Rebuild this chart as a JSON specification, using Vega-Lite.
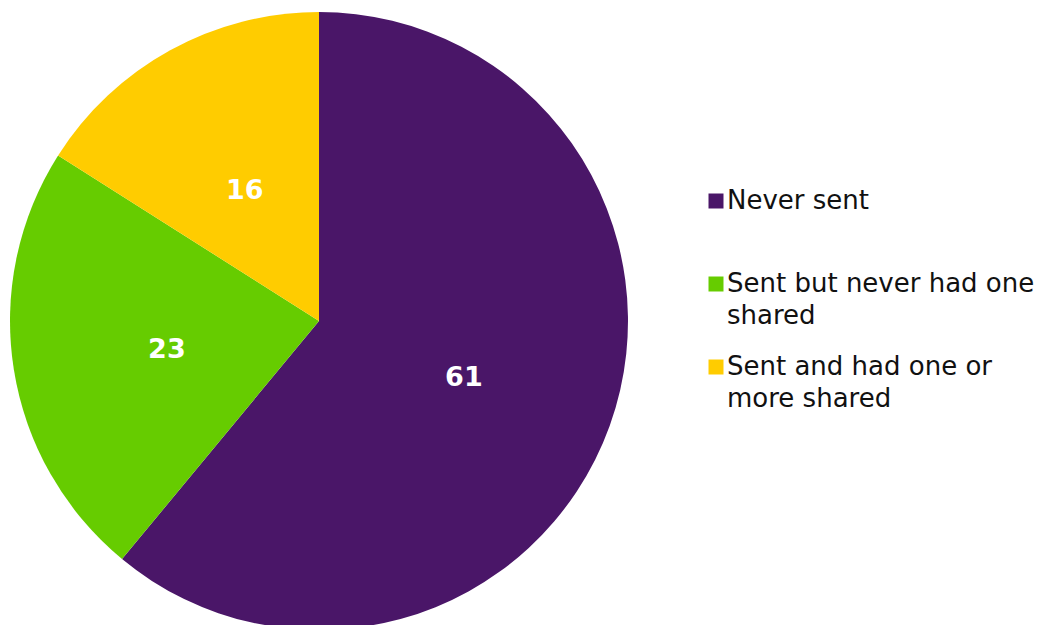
{
  "$schema": "https://vega.github.io/schema/vega-lite/v6.json",
  "width": 638,
  "height": 642,
  "padding": 0,
  "background": "white",
  "config": {"view": {"stroke": null}, "font": "DejaVu Sans", "style": {"guide-label": {"lineHeight": 32}}},
  "data": {"values": [
    {"category": "Never sent", "value": 61, "order": 1},
    {"category": "Sent but never had one shared", "value": 23, "order": 2},
    {"category": "Sent and had one or more shared", "value": 16, "order": 3}
  ]},
  "encoding": {
    "theta": {"field": "value", "type": "quantitative", "stack": true},
    "order": {"field": "order", "type": "quantitative"},
    "color": {
      "field": "category", "type": "nominal",
      "scale": {"domain": ["Never sent", "Sent but never had one shared", "Sent and had one or more shared"], "range": ["#4A1668", "#66CC00", "#FFCC00"]},
      "legend": {
        "title": null,
        "orient": "none",
        "legendX": 703,
        "legendY": 188,
        "padding": 0,
        "symbolType": "square",
        "symbolSize": 225,
        "symbolStrokeWidth": 0,
        "labelFont": "DejaVu Sans",
        "labelFontSize": 26,
        "labelColor": "#111111",
        "labelLimit": 400,
        "labelOffset": -2,
        "rowPadding": 25,
        "labelBaseline": "middle",
        "labelExpr": "datum.label == 'Sent but never had one shared' ? ['Sent but never had one', 'shared'] : datum.label == 'Sent and had one or more shared' ? ['Sent and had one or', 'more shared'] : [datum.label, ' ']"
      }
    }
  },
  "layer": [
    {"mark": {"type": "arc", "outerRadius": 309, "stroke": null}},
    {"mark": {"type": "text", "radius": 154, "dy": 5, "font": "DejaVu Sans", "fontWeight": "bold", "fontSize": 27, "fill": "white"},
     "encoding": {"text": {"field": "value", "type": "quantitative"}, "color": {"value": "white"}}}
  ]
}
